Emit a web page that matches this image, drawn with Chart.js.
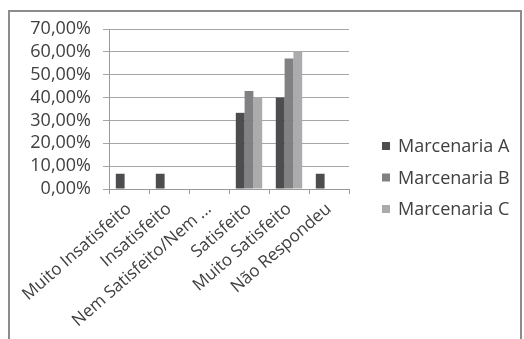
<!DOCTYPE html>
<html>
<head>
<meta charset="utf-8">
<script src="https://cdn.jsdelivr.net/npm/chart.js@4/dist/chart.umd.min.js"></script>
<style>
  html, body { margin: 0; padding: 0; background: #ffffff; }
  #wrap { position: relative; width: 524px; height: 339px; overflow: hidden; background: #fff; }
  #frame { position: absolute; left: 8px; top: 10px; width: 510px; height: 340px;
           border-left: 2px solid #8c8c8c; border-top: 2px solid #8c8c8c; border-right: 2px solid #8c8c8c; }
  #c { position: absolute; left: 0; top: 0; }
</style>
</head>
<body>
<div id="wrap">
  <div id="frame"></div>
  <canvas id="c" width="524" height="339"></canvas>
</div>
<script>
const categories = ["Muito Insatisfeito", "Insatisfeito", "Nem Satisfeito/Nem ...", "Satisfeito", "Muito Satisfeito", "Não Respondeu"];
const seriesNames = ["Marcenaria A", "Marcenaria B", "Marcenaria C"];
const marcenariaA = [6.67, 6.67, 0, 33.33, 40.00, 6.67];
const marcenariaB = [0, 0, 0, 42.86, 57.14, 0];
const marcenariaC = [0, 0, 0, 40.00, 60.00, 0];
const yMin = 0, yMax = 70, yStep = 10;

const colors = ["#4d4d4f", "#818184", "#ababae"];
const fontFamily = "'Open Sans', 'DejaVu Sans', sans-serif";
const textColor = "#404040";

// legend drawn from the chart's own datasets, placed to the right of the plot
const sideLegend = {
  id: 'sideLegend',
  afterDraw(chart, args, opts) {
    const ctx = chart.ctx;
    ctx.save();
    ctx.font = `${opts.fontSize}px ${fontFamily}`;
    ctx.textBaseline = 'middle';
    ctx.textAlign = 'left';
    chart.data.datasets.forEach((ds, i) => {
      const cy = opts.firstY + i * opts.spacing;
      ctx.fillStyle = ds.backgroundColor;
      ctx.fillRect(opts.boxX, cy - opts.box / 2, opts.box, opts.box);
      ctx.fillStyle = textColor;
      ctx.fillText(ds.label, opts.textX, cy + 1);
    });
    ctx.restore();
  }
};

new Chart(document.getElementById('c'), {
  type: 'bar',
  data: {
    labels: categories,
    datasets: [marcenariaA, marcenariaB, marcenariaC].map((d, i) => ({
      label: seriesNames[i],
      data: d,
      backgroundColor: colors[i],
      borderWidth: 0,
      categoryPercentage: 0.66,
      barPercentage: 1.0
    }))
  },
  plugins: [sideLegend],
  options: {
    responsive: false,
    animation: false,
    devicePixelRatio: 1,
    layout: { padding: { left: 0, top: 29, right: 175, bottom: 0 } },
    plugins: {
      legend: { display: false },
      tooltip: { enabled: false },
      sideLegend: { boxX: 382, textX: 398, box: 8, firstY: 146, spacing: 31.5, fontSize: 18 }
    },
    scales: {
      x: {
        afterFit(scale) { scale.height = 150; },
        grid: { offset: true, drawOnChartArea: false, drawTicks: true, tickLength: 5, color: '#9a9a9a' },
        border: { color: '#9a9a9a', width: 1 },
        ticks: {
          autoSkip: false, minRotation: 41, maxRotation: 41, padding: 5,
          color: textColor, font: { family: fontFamily, size: 17 }
        }
      },
      y: {
        min: yMin, max: yMax,
        afterFit(scale) { scale.width = 109; },
        grid: { color: '#a6a6a6', tickLength: 6, lineWidth: 1 },
        border: { color: '#9a9a9a', width: 1 },
        ticks: {
          stepSize: yStep, padding: 12, autoSkip: false,
          color: textColor, font: { family: fontFamily, size: 18 },
          callback: v => v.toFixed(2).replace('.', ',') + '%'
        }
      }
    }
  }
});
</script>
</body>
</html>
